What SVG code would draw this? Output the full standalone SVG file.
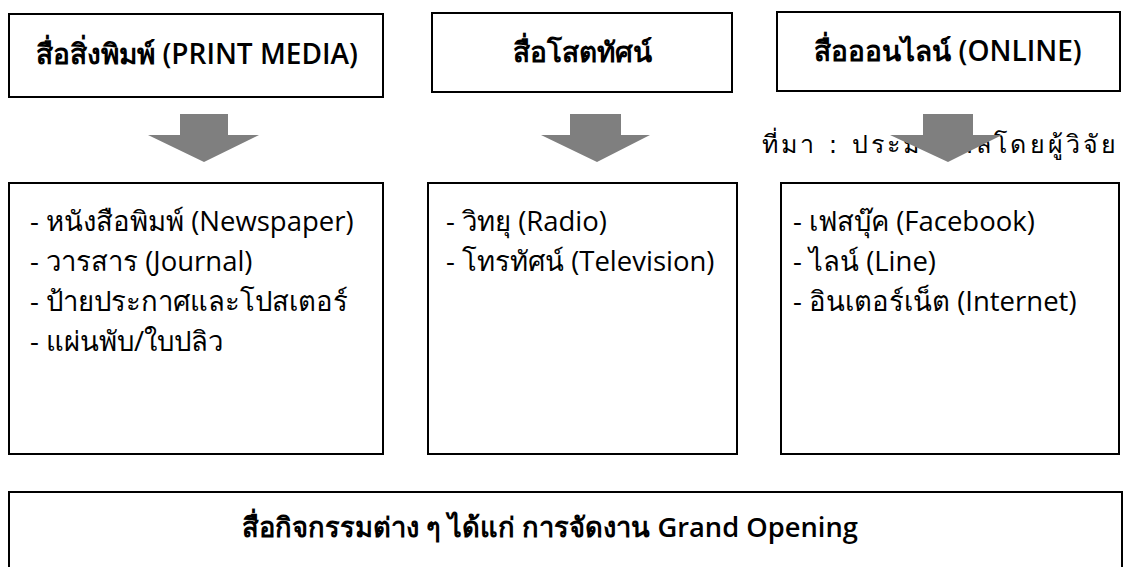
<svg xmlns="http://www.w3.org/2000/svg" width="1133" height="567" viewBox="0 0 1133 567">
<style>
.box{fill:#fff;stroke:#000;stroke-width:2}
.hd{font-family:"Open Sans","Noto Sans","DejaVu Sans",sans-serif;font-weight:600;font-size:28px;fill:#000;text-anchor:middle}
.bt{font-family:"Open Sans","Noto Sans","DejaVu Sans",sans-serif;font-weight:600;font-size:27.3px;fill:#000;text-anchor:middle}
.it{font-family:"Open Sans","Noto Sans","DejaVu Sans",sans-serif;font-size:27.5px;fill:#000}
.src{font-family:"DejaVu Sans","Noto Sans",sans-serif;font-size:25px;fill:#000;letter-spacing:3.2px}
.arr{fill:#7f7f7f}
</style>
<rect width="1133" height="567" fill="#fff"/>
<text class="src" x="762" y="153">ที่มา : ประมวลผลโดยผู้วิจัย</text>
<g id="print">
<rect class="box" x="9" y="14" width="374" height="83"/>
<text class="hd" x="197" y="64">สื่อสิ่งพิมพ์ (PRINT MEDIA)</text>
</g>
<g id="av">
<rect class="box" x="432" y="13" width="300" height="79"/>
<text class="hd" x="582" y="62">สื่อโสตทัศน์</text>
</g>
<g id="online">
<rect class="box" x="777" y="12" width="343" height="79"/>
<text class="hd" x="948" y="61">สื่อออนไลน์ (ONLINE)</text>
</g>
<g id="print-items">
<rect class="box" x="9" y="183" width="374" height="271"/>
<text class="it" x="30" y="231">- หนังสือพิมพ์ (Newspaper)</text>
<text class="it" x="30" y="271">- วารสาร (Journal)</text>
<text class="it" x="30" y="311">- ป้ายประกาศและโปสเตอร์</text>
<text class="it" x="30" y="351">- แผ่นพับ/ใบปลิว</text>
</g>
<g id="av-items">
<rect class="box" x="428" y="183" width="309" height="271"/>
<text class="it" x="446" y="231">- วิทยุ (Radio)</text>
<text class="it" x="446" y="271">- โทรทัศน์ (Television)</text>
</g>
<g id="online-items">
<rect class="box" x="781" y="183" width="338" height="271"/>
<text class="it" x="793" y="231">- เฟสบุ๊ค (Facebook)</text>
<text class="it" x="793" y="271">- ไลน์ (Line)</text>
<text class="it" x="793" y="311">- อินเตอร์เน็ต (Internet)</text>
</g>
<g id="activities">
<rect class="box" x="9" y="492" width="1113" height="90"/>
<text class="bt" x="550" y="537">สื่อกิจกรรมต่าง ๆ ได้แก่ การจัดงาน Grand Opening</text>
</g>
<g id="connectors">
<polygon class="arr" points="180,114 228,114 228,135 259,135 204,162 148,135 180,135"/>
<polygon class="arr" points="570,114 621,114 621,135 650,135 597,162 541,135 570,135"/>
<polygon class="arr" points="923,114 973,114 973,135 1002,135 948,162 890,135 923,135"/>
</g>
</svg>
